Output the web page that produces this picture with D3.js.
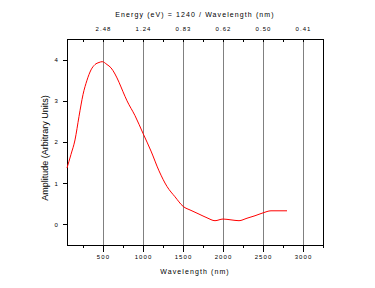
<!DOCTYPE html>
<html>
<head>
<meta charset="utf-8">
<script src="https://cdn.jsdelivr.net/npm/d3@7"></script>
<style>
  body { margin: 0; background: #fff; }
  svg { display: block; }
  .tick text { font-family: "Liberation Sans", Arial, sans-serif; font-size: 6px; letter-spacing: 1.1px; fill: #000; }
  .lbl { font-family: "Liberation Sans", Arial, sans-serif; fill: #000; }
</style>
</head>
<body>
<div id="chart"></div>
<script>
// values
const wavelength = [50, 100, 150, 200, 250, 300, 350, 400, 450, 490, 550, 600, 650, 700, 750, 800, 900, 1000,
                    1100, 1200, 1300, 1400, 1500, 1600, 1700, 1800, 1900, 2000, 2100, 2200, 2300, 2400, 2500, 2600, 2800];
const amplitude = [1.37, 1.70, 2.05, 2.62, 3.15, 3.50, 3.75, 3.88, 3.93, 3.95, 3.88, 3.80, 3.65, 3.45, 3.22, 3.00, 2.64, 2.21,
                   1.78, 1.30, 0.92, 0.67, 0.44, 0.34, 0.25, 0.16, 0.09, 0.13, 0.11, 0.09, 0.15, 0.21, 0.28, 0.33, 0.33];
const xTicks = [500, 1000, 1500, 2000, 2500, 3000];
const yTicks = [0, 1, 2, 3, 4];
const energyLabels = ["2.48", "1.24", "0.83", "0.62", "0.50", "0.41"];

let w = 375;
let h = 288;
let pLeft = 67, pRight = 323, pTop = 39, pBottom = 245;

const xScale = d3.scaleLinear().domain([50, 3250]).range([pLeft, pRight]);
const yScale = d3.scaleLinear().domain([-0.5, 4.5]).range([pBottom, pTop]);

const svg = d3.select("#chart").append("svg")
              .attr("width", w)
              .attr("height", h);

const minorX = d3.range(250, 3251, 250);

// grid lines
svg.append("g")
   .selectAll("line")
   .data(xTicks)
   .enter()
   .append("line")
   .attr("x1", d => Math.round(xScale(d)) + 0.5)
   .attr("x2", d => Math.round(xScale(d)) + 0.5)
   .attr("y1", pTop)
   .attr("y2", pBottom)
   .attr("stroke", "#808080")
   .attr("stroke-width", 1)
   .attr("shape-rendering", "crispEdges");

// bottom axis, minor then major
svg.append("g")
   .attr("transform", "translate(0," + pBottom + ")")
   .call(d3.axisBottom(xScale).tickValues(minorX).tickSize(3).tickFormat(""))
   .call(g => g.select(".domain").remove());

svg.append("g")
   .attr("transform", "translate(0," + pBottom + ")")
   .call(d3.axisBottom(xScale).tickValues(xTicks).tickSize(7).tickPadding(3).tickFormat(d3.format("d")))
   .call(g => g.select(".domain").remove());

// top axis: energy
svg.append("g")
   .attr("transform", "translate(0," + pTop + ")")
   .call(d3.axisTop(xScale).tickValues(minorX).tickSize(-3).tickFormat(""))
   .call(g => g.select(".domain").remove());

svg.append("g")
   .attr("transform", "translate(0," + pTop + ")")
   .call(d3.axisTop(xScale).tickValues(xTicks).tickSize(0).tickPadding(8)
           .tickFormat((d, i) => energyLabels[i]))
   .call(g => g.select(".domain").remove());

// left axis
svg.append("g")
   .attr("transform", "translate(" + pLeft + ",0)")
   .call(d3.axisLeft(yScale).tickValues(yTicks).tickSize(4).tickPadding(4).tickFormat(d3.format("d")))
   .call(g => g.select(".domain").remove());

svg.selectAll(".tick line").attr("stroke", "#000").attr("shape-rendering", "crispEdges");

// frame
svg.append("rect")
   .attr("x", pLeft + 0.5)
   .attr("y", pTop + 0.5)
   .attr("width", pRight - pLeft)
   .attr("height", pBottom - pTop)
   .attr("fill", "none")
   .attr("stroke", "#000")
   .attr("shape-rendering", "crispEdges");

// curve
const line = d3.line()
               .x((d, i) => xScale(wavelength[i]))
               .y(d => yScale(d))
               .curve(d3.curveMonotoneX);

svg.append("path")
   .datum(amplitude)
   .attr("d", line)
   .attr("fill", "none")
   .attr("stroke", "#ff0000")
   .attr("stroke-width", 1);

// titles
svg.append("text")
   .attr("class", "lbl")
   .attr("x", (pLeft + pRight) / 2)
   .attr("y", 17)
   .attr("text-anchor", "middle")
   .style("font-size", "7px")
   .style("letter-spacing", "1.1px")
   .text("Energy (eV) = 1240 / Wavelength (nm)");

svg.append("text")
   .attr("class", "lbl")
   .attr("x", (pLeft + pRight) / 2)
   .attr("y", 274)
   .attr("text-anchor", "middle")
   .style("font-size", "7px")
   .style("letter-spacing", "1.1px")
   .text("Wavelength (nm)");

svg.append("text")
   .attr("class", "lbl")
   .attr("transform", "translate(48,148) rotate(-90)")
   .attr("text-anchor", "middle")
   .style("font-size", "9px")
   .text("Amplitude (Arbitrary Units)");
</script>
</body>
</html>
